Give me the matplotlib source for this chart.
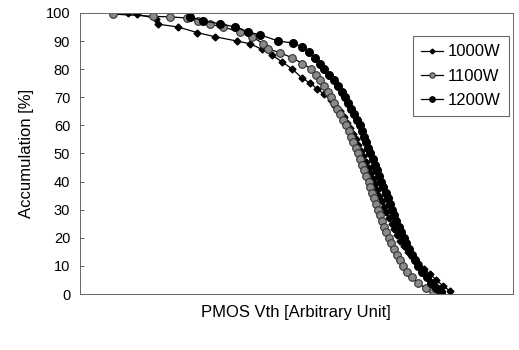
import matplotlib
matplotlib.use("Agg")
import matplotlib.pyplot as plt

plt.rcParams['font.family'] = ['Liberation Sans', 'DejaVu Sans']

# cumulative Vth distributions, x in arbitrary units, y in %
x_1000 = [11.1, 13.2, 17.6, 18.1, 22.7, 27.1, 31.3, 36.3, 39.4, 42.1, 44.4, 46.8,
          49.1, 51.2, 53.2, 54.8, 56.5, 57.9, 59.0, 60.0, 60.9, 61.7, 62.4, 63.1,
          63.7, 64.3, 64.9, 65.5, 66.1, 66.7, 67.2, 67.7, 68.2, 68.7, 69.2, 69.7,
          70.2, 70.8, 71.4, 72.0, 72.6, 73.3, 74.0, 74.9, 75.9, 77.0, 78.2, 79.5,
          80.9, 82.3, 83.8, 85.6]
y_1000 = [100, 99.5, 98, 96, 95, 93, 91.5, 90, 89, 87, 85, 82.5,
          80, 77, 75, 73, 71, 69, 67, 65, 63, 61, 59, 57,
          55, 53, 51, 49, 47, 45, 43, 41, 39, 37, 35, 33,
          31, 29, 27, 25, 23, 21, 19, 17, 15, 13, 11, 9,
          7, 5, 3, 1]

x_1100 = [7.6, 16.9, 20.8, 24.8, 27.3, 30.1, 33.1, 37.0, 39.8, 42.4, 43.5, 46.3,
          49.1, 51.4, 53.5, 54.6, 55.5, 56.4, 57.2, 58.0, 58.7, 59.4, 60.1, 60.8,
          61.5, 62.1, 62.7, 63.2, 63.7, 64.2, 64.7, 65.2, 65.7, 66.2, 66.7, 67.1,
          67.5, 67.9, 68.4, 68.9, 69.3, 69.8, 70.3, 70.8, 71.3, 71.9, 72.5, 73.2,
          73.9, 74.7, 75.6, 76.7, 78.1, 79.9, 81.5]
y_1100 = [99.6, 98.8, 98.6, 98.2, 97.2, 96, 95, 93.2, 91.5, 89, 87.2, 85.8,
          84, 82, 80, 78, 76, 74, 72, 70, 68, 66, 64, 62,
          60, 58, 56, 54, 52, 50, 48, 46, 44, 42, 40, 38,
          36, 34, 32, 30, 28, 26, 24, 22, 20, 18, 16, 14,
          12, 10, 8, 6, 4, 2, 1]

x_1200 = [25.5, 28.5, 32.4, 35.9, 38.9, 41.7, 45.8, 49.3, 51.2, 53.0, 54.4, 55.5,
          56.5, 57.6, 58.6, 59.6, 60.5, 61.3, 62.0, 62.7, 63.4, 64.0, 64.6, 65.1,
          65.6, 66.1, 66.6, 67.1, 67.6, 68.1, 68.6, 69.1, 69.6, 70.1, 70.6, 71.1,
          71.6, 72.1, 72.6, 73.1, 73.6, 74.2, 74.8, 75.4, 76.0, 76.7, 77.4, 78.2,
          79.1, 80.1, 81.2, 82.3, 83.4]
y_1200 = [98.6, 97.2, 96.1, 95, 93.2, 92.2, 90, 89.3, 88, 86, 84, 82,
          80, 78, 76, 74, 72, 70, 68, 66, 64, 62, 60, 58,
          56, 54, 52, 50, 48, 46, 44, 42, 40, 38, 36, 34,
          32, 30, 28, 26, 24, 22, 20, 18, 16, 14, 12, 10,
          8, 6, 4, 2, 0.7]

fig = plt.figure(figsize=(5.19, 3.5), dpi=100)
ax = fig.add_axes([0.154, 0.16, 0.834, 0.803])

ax.plot(x_1000, y_1000, color='black', lw=0.9, marker='D', markersize=3.5,
        markerfacecolor='black', markeredgecolor='black', label='1000W')
ax.plot(x_1100, y_1100, color='black', lw=0.9, marker='o', markersize=5.5,
        markerfacecolor='#8a8a8a', markeredgecolor='#333333', markeredgewidth=0.8,
        label='1100W')
ax.plot(x_1200, y_1200, color='black', lw=0.9, marker='o', markersize=5.5,
        markerfacecolor='black', markeredgecolor='black', label='1200W')

ax.set_xlim(0, 100)
ax.set_ylim(0, 100)
ax.set_yticks(range(0, 101, 10))
ax.set_xticks([])
ax.tick_params(axis='y', direction='in', length=3, width=0.6, labelsize=10.5,
               pad=7, colors='#444444', labelcolor='black')
for s in ax.spines.values():
    s.set_color('#666666')
    s.set_linewidth(0.7)

ax.set_ylabel('Accumulation [%]', fontsize=12, labelpad=8)
ax.set_xlabel('PMOS Vth [Arbitrary Unit]', fontsize=12, labelpad=8)

leg = ax.legend(loc='upper left', bbox_to_anchor=(413 / 519, 1 - 36 / 350),
                bbox_transform=fig.transFigure, fontsize=12, frameon=True,
                fancybox=False, handlelength=1.3, handletextpad=0.3,
                labelspacing=0.55, borderpad=0.5, borderaxespad=0,
                markerscale=0.7)
leg.get_frame().set_edgecolor('#444444')
leg.get_frame().set_linewidth(0.8)

fig.savefig('out.png', dpi=100)
